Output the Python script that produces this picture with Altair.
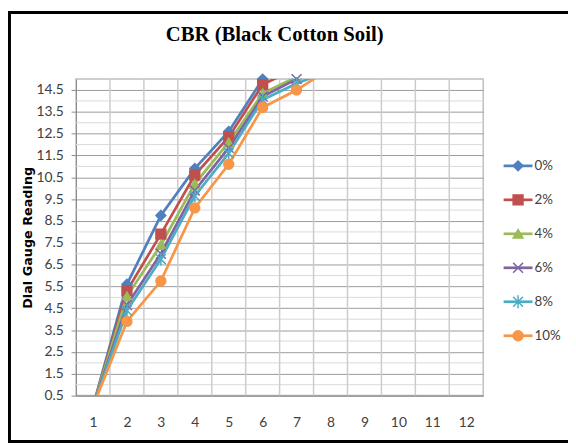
import altair as alt
import pandas as pd

# ---------------- data ----------------
x_values = [1, 2, 3, 4, 5, 6, 7, 8]
series_names = ["0%", "2%", "4%", "6%", "8%", "10%"]
pct_0 = [0, 5.6, 8.75, 10.9, 12.6, 15.0, 16.0, 17.0]
pct_2 = [0, 5.3, 7.9, 10.6, 12.35, 14.75, 15.5, 16.2]
pct_4 = [0, 5.05, 7.4, 10.2, 12.1, 14.35, 15.1, 15.9]
pct_6 = [0, 4.65, 7.0, 9.9, 11.85, 14.2, 15.0, 15.6]
pct_8 = [0, 4.4, 6.75, 9.65, 11.6, 14.05, 14.8, 15.4]
pct_10 = [0, 3.9, 5.75, 9.1, 11.1, 13.7, 14.5, 15.5]

series_colors = ["#4F81BD", "#C0504D", "#9BBB59", "#8064A2", "#4BACC6", "#F79646"]
series_shapes = [
    "diamond",
    "square",
    "triangle-up",
    "M-1,-1L1,1M-1,1L1,-1",
    "M-1,-1L1,1M-1,1L1,-1M0,-1.3L0,1.3",
    "circle",
]
x_tick_labels = list(range(1, 13))
y_tick_values = [0.5 + i for i in range(15)]
y_minor_grid = list(range(1, 15))
x_grid = [1.5 + i for i in range(11)]

all_series = [pct_0, pct_2, pct_4, pct_6, pct_8, pct_10]
rows = []
for name, vals in zip(series_names, all_series):
    for xv, v in zip(x_values, vals):
        rows.append({"series": name, "x": xv, "v": v})
df = pd.DataFrame(rows)

LABEL_FONT = "Lato, sans-serif"
W, H = 413, 321

x_scale = alt.Scale(domain=[0.5, 12.5], nice=False, zero=False)
y_scale = alt.Scale(domain=[0.5, 15], nice=False, zero=False)
color_scale = alt.Scale(domain=series_names, range=series_colors)
shape_scale = alt.Scale(domain=series_names, range=series_shapes)

x_axis = alt.Axis(
    values=x_tick_labels, format="d", ticks=False, grid=False,
    labelFont=LABEL_FONT, labelFontSize=14, labelColor="#404040",
    labelPadding=20, labelFlush=False, labelOverlap=False,
    domainColor="#8c8c8c", title=None,
)
y_axis = alt.Axis(
    values=y_tick_values, format=".1f", grid=True, gridColor="#9a9a9a",
    gridWidth=1, tickColor="#8c8c8c", tickSize=5, domainColor="#8c8c8c",
    labelFont=LABEL_FONT, labelFontSize=14, labelColor="#404040",
    labelPadding=8, labelFlush=False, labelOverlap=False,
    title="Dial Gauge Reading", titleFont="DejaVu Sans", titleFontSize=13,
    titleFontWeight="bold", titleColor="black", titlePadding=1,
)

minor = alt.Chart(pd.DataFrame({"g": y_minor_grid})).mark_rule(
    color="#d9d9d9", strokeWidth=1
).encode(y=alt.Y("g:Q", scale=y_scale, axis=y_axis))

vgrid = alt.Chart(pd.DataFrame({"g": x_grid})).mark_rule(
    color="#cccccc", strokeWidth=1.5
).encode(x=alt.X("g:Q", scale=x_scale, axis=x_axis))

lines = alt.Chart(df).mark_line(strokeWidth=2.75, clip=True).encode(
    x=alt.X("x:Q", scale=x_scale, axis=x_axis),
    y=alt.Y("v:Q", scale=y_scale, axis=y_axis),
    color=alt.Color("series:N", scale=color_scale, legend=None),
)

points = alt.Chart(df).transform_filter(
    "datum.v >= 0.5 && datum.v <= 15.0"
).mark_point(filled=True, size=100, strokeWidth=1.5, opacity=1).encode(
    x=alt.X("x:Q", scale=x_scale, axis=x_axis),
    y=alt.Y("v:Q", scale=y_scale, axis=y_axis),
    fill=alt.Fill("series:N", scale=color_scale, legend=None),
    stroke=alt.Stroke("series:N", scale=color_scale, legend=None),
    shape=alt.Shape("series:N", scale=shape_scale, legend=None),
)

main = alt.layer(minor, vgrid, lines, points)

# ---------------- legend (drawn through its own scales) ----------------
leg_rows = []
for name in series_names:
    leg_rows.append({"series": name, "p": 0.0})
    leg_rows.append({"series": name, "p": 1.0})
leg_df = pd.DataFrame(leg_rows)
leg_pt_df = pd.DataFrame({"series": series_names, "p": [0.5] * len(series_names)})
leg_tx_df = pd.DataFrame({"series": series_names, "p": [1.0] * len(series_names)})

lx = alt.Scale(domain=[0, 1], range=[433.7, 463])
ly = alt.Scale(type="point", domain=series_names, range=[88, 260.3], padding=0)

leg_lines = alt.Chart(leg_df).mark_line(strokeWidth=2.75).encode(
    x=alt.X("p:Q", scale=lx, axis=None),
    y=alt.Y("series:N", scale=ly, axis=None),
    color=alt.Color("series:N", scale=color_scale, legend=None),
    detail="series:N",
)
leg_points = alt.Chart(leg_pt_df).mark_point(filled=True, size=100, strokeWidth=1.5, opacity=1).encode(
    x=alt.X("p:Q", scale=lx, axis=None),
    y=alt.Y("series:N", scale=ly, axis=None),
    fill=alt.Fill("series:N", scale=color_scale, legend=None),
    stroke=alt.Stroke("series:N", scale=color_scale, legend=None),
    shape=alt.Shape("series:N", scale=shape_scale, legend=None),
)
leg_text = alt.Chart(leg_tx_df).mark_text(
    align="left", baseline="middle", dx=2, font=LABEL_FONT, fontSize=13.5, color="#404040"
).encode(
    x=alt.X("p:Q", scale=lx, axis=None),
    y=alt.Y("series:N", scale=ly, axis=None),
    text="series:N",
)
legend = alt.layer(leg_lines, leg_points, leg_text)

frame = alt.Chart(alt.Data(values=[{}])).mark_rect(
    fillOpacity=0, stroke="black", strokeWidth=3
).encode(
    x=alt.value(-67.5), x2=alt.value(W + 120),
    y=alt.value(-67.5), y2=alt.value(367.5),
)

chart = alt.layer(main, legend, frame).resolve_scale(
    x="independent", y="independent"
).properties(
    width=W, height=H,
    title=alt.TitleParams(
        text="CBR (Black Cotton Soil)", font="Liberation Serif", fontSize=21,
        fontWeight="bold", color="black", anchor="middle", offset=0, dy=34, dx=-5,
        frame="group",
    ),
    padding={"left": 69, "top": 69, "right": 86, "bottom": 48},
    autosize=alt.AutoSizeParams(type="none"),
).configure_view(stroke="#bfbfbf", strokeWidth=1.5)

chart.save("out.html", embed_options={"renderer": "svg", "actions": False})
